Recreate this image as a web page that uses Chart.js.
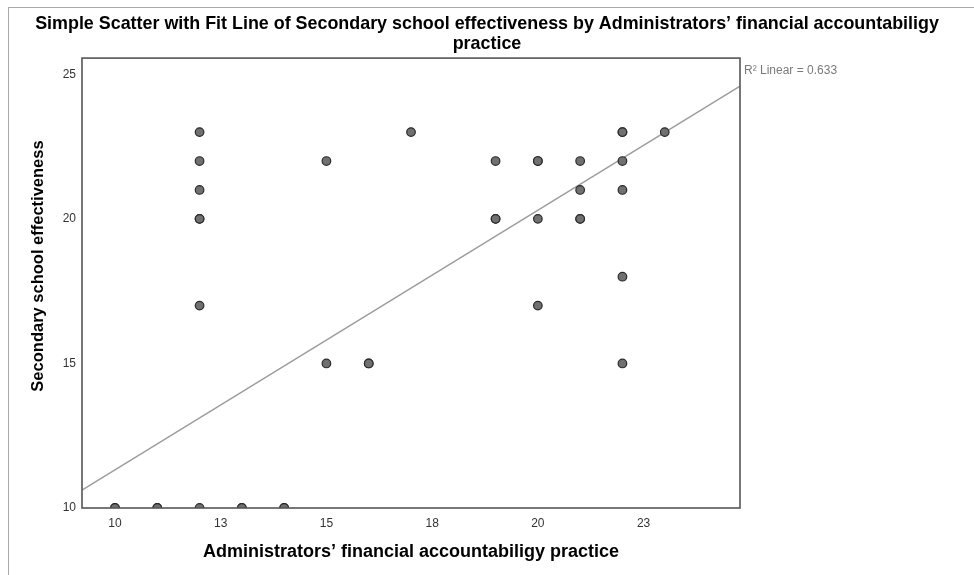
<!DOCTYPE html>
<html>
<head>
<meta charset="utf-8">
<script src="https://cdn.jsdelivr.net/npm/chart.js@4"></script>
<style>
	html, body { margin: 0; padding: 0; background: #fff; }
</style>
</head>
<body>
<canvas id="chart-scatter" width="974" height="575"></canvas>
<script>
// Data (repeated pairs = overlapping cases)
const xValues = [10, 10, 11, 11, 12, 13, 13, 14, 14,
	12, 12, 12, 12, 12, 12,
	15, 15, 16, 16, 17,
	19, 19, 19,
	20, 20, 20, 20,
	21, 21, 21, 21,
	22, 22, 22, 22, 22, 22,
	23];
const yValues = [10, 10, 10, 10, 10, 10, 10, 10, 10,
	23, 22, 21, 20, 20, 17,
	22, 15, 15, 15, 23,
	22, 20, 20,
	22, 22, 20, 17,
	22, 21, 20, 20,
	23, 23, 22, 21, 18, 15,
	23];

// Fit line end points (at the plot edges)
const fitX = [9.22, 24.78];
const fitY = [10.62, 24.59];

const xTicks = [10, 12.5, 15, 17.5, 20, 22.5];
const xTickLabels = ['10', '13', '15', '18', '20', '23'];
const yTicks = [10, 15, 20, 25];

const titleLines = [
	'Simple Scatter with Fit Line of Secondary school effectiveness by Administrators’ financial accountabiligy',
	'practice',
];
const xTitle = 'Administrators’ financial accountabiligy practice';
const yTitle = 'Secondary school effectiveness';
const r2Label = 'R² Linear = 0.633';

const FONT = '"Liberation Sans", Arial, sans-serif';

// Frame, plot box, y title and R² note
const extras = {
	id: 'extras',
	beforeDraw(chart) {
		const ctx = chart.ctx;
		ctx.save();
		ctx.strokeStyle = '#a8a8a8';
		ctx.lineWidth = 1;
		ctx.strokeRect(8.5, 7.5, 2000, 2000);
		ctx.restore();
	},
	afterDatasetsDraw(chart) {
		const ctx = chart.ctx;
		const a = chart.chartArea;
		ctx.save();
		ctx.strokeStyle = '#555';
		ctx.lineWidth = 1.6;
		ctx.strokeRect(a.left, a.top, a.right - a.left, a.bottom - a.top);

		ctx.fillStyle = '#000';
		ctx.font = 'bold 16.5px ' + FONT;
		ctx.textAlign = 'center';
		ctx.textBaseline = 'middle';
		ctx.translate(38, 266);
		ctx.rotate(-Math.PI / 2);
		ctx.fillText(yTitle, 0, 0);
		ctx.restore();

		ctx.save();
		ctx.fillStyle = '#7a7a7a';
		ctx.font = '12px ' + FONT;
		ctx.textAlign = 'left';
		ctx.textBaseline = 'middle';
		ctx.fillText(r2Label, a.right + 4, 71);
		ctx.restore();
	},
};

!(function () {
	const ctx = document.getElementById('chart-scatter');
	const points = xValues.map((x, i) => ({ x: x, y: yValues[i] }));
	const fit = fitX.map((x, i) => ({ x: x, y: fitY[i] }));

	new Chart(ctx, {
		type: 'scatter',
		data: {
			datasets: [
				{
					label: 'Cases',
					data: points,
					pointRadius: 4.3,
					backgroundColor: '#707070',
					borderColor: '#2b2b2b',
					borderWidth: 1.2,
					clip: 0,
					order: 1,
				},
				{
					type: 'line',
					label: 'Fit',
					data: fit,
					borderColor: '#9c9c9c',
					borderWidth: 1.3,
					pointRadius: 0,
					clip: 0,
					order: 2,
				},
			],
		},
		options: {
			responsive: false,
			animation: false,
			layout: { padding: 0 },
			scales: {
				x: {
					type: 'linear',
					min: fitX[0],
					max: fitX[1],
					afterBuildTicks: (s) => { s.ticks = xTicks.map((v) => ({ value: v })); },
					afterFit: (s) => { s.height = 67; },
					grid: { display: false, drawTicks: false },
					border: { display: false },
					ticks: {
						callback: (v, i) => xTickLabels[i],
						color: '#333',
						font: { family: FONT, size: 12 },
						padding: 8,
						maxRotation: 0,
					},
					title: {
						display: true,
						text: xTitle,
						color: '#000',
						font: { family: FONT, size: 18, weight: 'bold', lineHeight: 1.1 },
						padding: { top: 0, bottom: 13 },
					},
				},
				y: {
					type: 'linear',
					min: 10,
					max: 25.56,
					afterBuildTicks: (s) => { s.ticks = yTicks.map((v) => ({ value: v })); },
					afterFit: (s) => { s.width = 82; },
					grid: { display: false, drawTicks: false },
					border: { display: false },
					ticks: {
						callback: (v) => v,
						color: '#333',
						font: { family: FONT, size: 12 },
						padding: 6,
					},
				},
				y2: {
					type: 'linear',
					position: 'right',
					display: true,
					afterFit: (s) => { s.width = 234; },
					grid: { display: false, drawTicks: false },
					border: { display: false },
					ticks: { display: false },
				},
			},
			plugins: {
				legend: { display: false },
				tooltip: { enabled: false },
				title: {
					display: true,
					text: titleLines,
					color: '#000',
					font: { family: FONT, size: 17.9, weight: 'bold', lineHeight: 1.12 },
					padding: { top: 14, bottom: 4 },
				},
			},
		},
		plugins: [extras],
	});
})();
</script>
</body>
</html>
